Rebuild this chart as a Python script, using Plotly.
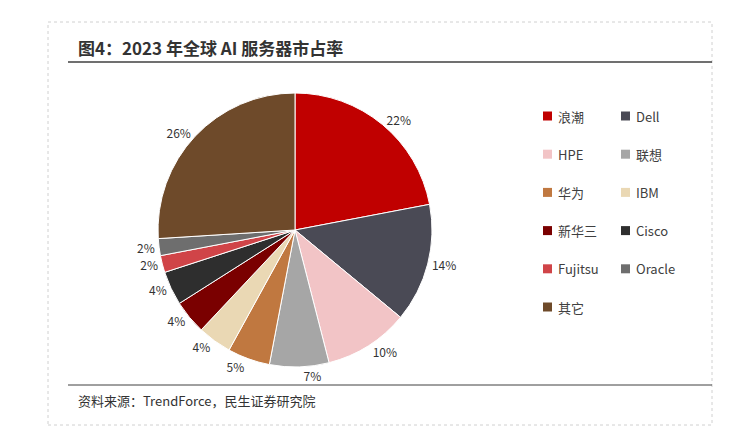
import plotly.graph_objects as go

# datos
labels = ['浪潮', 'Dell', 'HPE', '联想', '华为', 'IBM', '新华三', 'Cisco', 'Fujitsu', 'Oracle', '其它']
values = [22, 14, 10, 7, 5, 4, 4, 4, 2, 2, 26]
colors = ['#C00000', '#4A4A55', '#F2C4C6', '#A6A6A6', '#C07840', '#EAD8B4',
          '#7A0000', '#2E2E2E', '#D04448', '#6E6E6E', '#6E4A2A']

W, H = 745, 432
OFF = 8  # margen del body en la pagina
font = 'Noto Sans CJK SC, Noto Sans, sans-serif'

def px(x):
    return (x - OFF) / W

def py(y):
    return 1 - (y - OFF) / H

fig = go.Figure()
fig.add_trace(go.Pie(
    labels=labels, values=values, sort=False, direction='clockwise', rotation=0,
    marker=dict(colors=colors, line=dict(color='white', width=1)),
    texttemplate='%{value}%', textposition='outside',
    textfont=dict(size=12, color='#333333', family=font),
    domain=dict(x=[px(158), px(432)], y=[py(367), py(93)]),
    showlegend=False, hoverinfo='label+value'
))

# leyenda manual en dos columnas
shapes = []
annotations = []
for i, lab in enumerate(labels):
    col, row = i % 2, i // 2
    x = 543 if col == 0 else 621
    y = 116 + row * 38.2
    shapes.append(dict(type='rect', xref='paper', yref='paper',
                       x0=px(x), x1=px(x+9), y0=py(y+4.5), y1=py(y-4.5),
                       fillcolor=colors[i], line=dict(width=0)))
    annotations.append(dict(text=lab, x=px(x+13), y=py(y), xref='paper', yref='paper',
                            xanchor='left', yanchor='middle', showarrow=False,
                            font=dict(size=13, color='#404040', family=font)))

# marco, titulo y fuente
shapes.append(dict(type='rect', xref='paper', yref='paper', x0=px(48), x1=px(712), y0=py(425), y1=py(22),
                   line=dict(color='#D0D0D0', width=1, dash='dot')))
shapes.append(dict(type='line', xref='paper', yref='paper', x0=px(68), x1=px(712), y0=py(62), y1=py(62),
                   line=dict(color='#404040', width=1.5)))
shapes.append(dict(type='line', xref='paper', yref='paper', x0=px(68), x1=px(712), y0=py(385), y1=py(385),
                   line=dict(color='#404040', width=1)))
annotations.append(dict(text='<b>图4：2023 年全球 AI 服务器市占率</b>', x=px(76), y=py(47), xref='paper', yref='paper',
                        xanchor='left', yanchor='middle', showarrow=False,
                        font=dict(size=17, color='#333333', family=font)))
annotations.append(dict(text='资料来源：TrendForce，民生证券研究院', x=px(76), y=py(400), xref='paper', yref='paper',
                        xanchor='left', yanchor='middle', showarrow=False,
                        font=dict(size=13, color='#333333', family=font)))

fig.update_layout(width=W, height=H, margin=dict(l=0, r=0, t=0, b=0),
                  paper_bgcolor='white', shapes=shapes, annotations=annotations)
fig.write_html('out.html')
